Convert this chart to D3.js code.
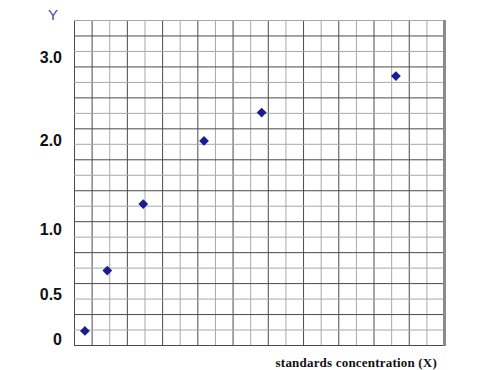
<!DOCTYPE html>
<html>
<head>
<meta charset="utf-8">
<script src="https://cdn.jsdelivr.net/npm/d3@7"></script>
<style>
  body { margin: 0; background: #fff; }
  svg { display: block; }
</style>
</head>
<body>
<svg width="477" height="370"></svg>
<script>
// data
const concX = [0.62, 1.89, 3.93, 7.38, 10.65, 18.27];
const absY = [0.09, 0.68, 1.28, 1.99, 2.33, 2.77];
const yTicks = [0, 0.5, 1.0, 2.0, 3.0];
const yTickLabels = ["0", "0.5", "1.0", "2.0", "3.0"];
const gridCount = 21;

const svg = d3.select("svg");

// grid spans 21 cells each way
const x = d3.scaleLinear().domain([0, gridCount]).range([74, 444]);
const gy = d3.scaleLinear().domain([0, gridCount]).range([345, 20]);
// the y labels in the source are not evenly spaced, so piecewise scale
const y = d3.scaleLinear().domain(yTicks).range([339, 294, 229, 140, 57]);

const g = svg.append("g");

// vertical grid lines
g.selectAll("line.v")
  .data(d3.range(0, gridCount + 1))
  .join("line")
  .attr("class", "v")
  .attr("x1", d => x(d) + 0.5)
  .attr("x2", d => x(d) + 0.5)
  .attr("y1", gy(gridCount))
  .attr("y2", gy(0))
  .attr("stroke", d => (d % 2 === 1 || d === 0) ? "#4a4a4a" : "#a8a8a8")
  .attr("stroke-width", 1);

// horizontal grid lines
g.selectAll("line.h")
  .data(d3.range(0, gridCount + 1))
  .join("line")
  .attr("class", "h")
  .attr("x1", x(0))
  .attr("x2", x(gridCount))
  .attr("y1", d => gy(d) + 0.5)
  .attr("y2", d => gy(d) + 0.5)
  .attr("stroke", d => (d % 2 === 0) ? "#4a4a4a" : "#a8a8a8")
  .attr("stroke-width", 1);

// thick grey right edge
g.append("line")
  .attr("x1", x(gridCount) + 0.5)
  .attr("x2", x(gridCount) + 0.5)
  .attr("y1", gy(gridCount))
  .attr("y2", gy(0) + 1)
  .attr("stroke", "#8a8a8a")
  .attr("stroke-width", 3);

// y labels
svg.selectAll("text.ylab")
  .data(yTicks)
  .join("text")
  .attr("class", "ylab")
  .attr("x", 62)
  .attr("y", d => y(d))
  .attr("dy", "0.35em")
  .attr("text-anchor", "end")
  .attr("font-family", "Liberation Sans, Arial, sans-serif")
  .attr("font-weight", "bold")
  .attr("font-size", 16)
  .attr("fill", "#111")
  .text((d, i) => yTickLabels[i]);

svg.append("text")
  .attr("x", 53)
  .attr("y", 20)
  .attr("text-anchor", "middle")
  .attr("font-family", "Liberation Sans, Arial, sans-serif")
  .attr("font-size", 15)
  .attr("fill", "#4646a6")
  .text("Y");

svg.append("text")
  .attr("x", 437)
  .attr("y", 367)
  .attr("text-anchor", "end")
  .attr("font-family", "Liberation Serif, Times New Roman, serif")
  .attr("font-weight", "bold")
  .attr("font-size", 13)
  .attr("letter-spacing", 0.2)
  .attr("fill", "#111")
  .text("standards concentration (X)");

// points
const diamond = d3.symbol().type(d3.symbolSquare).size(48);
g.selectAll("path.pt")
  .data(concX.map((c, i) => ({ c, a: absY[i] })))
  .join("path")
  .attr("class", "pt")
  .attr("d", diamond)
  .attr("transform", d => `translate(${x(d.c)},${y(d.a)}) rotate(45)`)
  .attr("fill", "#1c1c8e");
</script>
</body>
</html>
